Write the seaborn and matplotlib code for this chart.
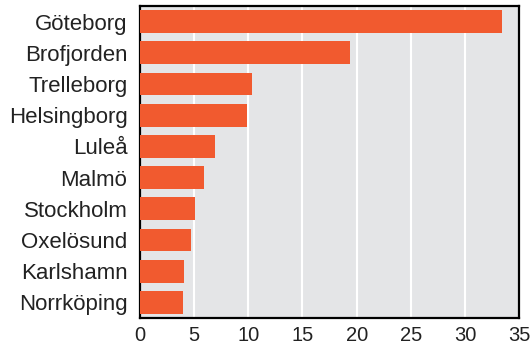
import matplotlib
matplotlib.use("Agg")
import matplotlib.pyplot as plt
import seaborn as sns
import pandas as pd

ports = ["Göteborg", "Brofjorden", "Trelleborg", "Helsingborg", "Luleå",
         "Malmö", "Stockholm", "Oxelösund", "Karlshamn", "Norrköping"]
values = [33.4, 19.4, 10.3, 9.9, 6.9, 5.9, 5.05, 4.7, 4.1, 3.95]
x_ticks = [0, 5, 10, 15, 20, 25, 30, 35]

df = pd.DataFrame({"port": ports, "value": values})

sns.set_style("white")
plt.rcParams["font.family"] = ["Liberation Sans", "DejaVu Sans"]

fig = plt.figure(figsize=(5.32, 3.51), dpi=100)
ax = fig.add_axes([0.263, 0.094, 0.713, 0.889])
ax.set_facecolor("#E4E5E7")

sns.barplot(data=df, x="value", y="port", color="#F15A2F", saturation=1,
            width=0.73, linewidth=0, ax=ax, zorder=3)

ax.set_xlim(0, 35)
ax.set_ylim(9.5, -0.5)
ax.set_xticks(x_ticks)
ax.xaxis.grid(True, color="white", linewidth=1.5, zorder=1)
ax.set_axisbelow(True)
ax.set_xlabel("")
ax.set_ylabel("")
ax.tick_params(axis="both", length=0, colors="#222222")
ax.tick_params(axis="x", pad=6, labelsize=14.5)
ax.tick_params(axis="y", pad=9, labelsize=16)
for s in ax.spines.values():
    s.set_visible(True)
    s.set_color("black")
    s.set_linewidth(1.6)

fig.savefig("out.png", dpi=100)
